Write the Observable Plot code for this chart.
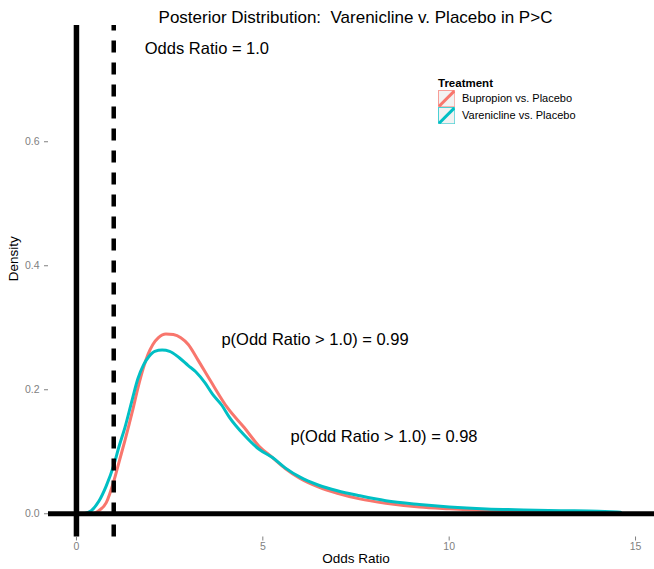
<!DOCTYPE html>
<html><head><meta charset="utf-8">
<script src="https://cdn.jsdelivr.net/npm/d3@7"></script>
<script src="https://cdn.jsdelivr.net/npm/@observablehq/plot@0.6"></script>
<style>
html,body{margin:0;padding:0;background:#fff;overflow:hidden;}
#wrap{position:relative;width:663px;height:569px;font-family:"Liberation Sans",Arial,sans-serif;}
#title{position:absolute;left:48px;width:615px;top:4.5px;line-height:25px;text-align:center;font-size:17px;white-space:pre;color:#000;}
#chart{position:absolute;left:0;top:25px;}
.lg{position:absolute;white-space:pre;line-height:14px;color:#000;}
</style></head><body>
<div id="wrap"><div id="title"></div><div id="chart"></div></div>
<script>
const titleText = "Posterior Distribution:  Varenicline v. Placebo in P>C";
const legendTitle = "Treatment";
const seriesNames = ["Bupropion vs. Placebo", "Varenicline vs. Placebo"];
const seriesColors = ["#F8766D", "#00BFC4"];

const bupropionX = [0.45,0.6,0.8,1.0,1.15,1.3,1.5,1.65,1.8,1.92,2.05,2.2,2.4,2.6,2.8,3.0,3.25,3.6,4.05,4.5,4.9,5.25,5.6,6.0,6.5,7.0,7.6,8.3,9.2,10.0,11.0,12.0,13.0];
const bupropionY = [0.0,0.005,0.018,0.052,0.085,0.118,0.165,0.203,0.236,0.257,0.273,0.284,0.290,0.289,0.284,0.273,0.249,0.214,0.171,0.139,0.109,0.091,0.073,0.057,0.043,0.033,0.024,0.017,0.011,0.008,0.005,0.003,0.001];

const vareniclineX = [0.2,0.4,0.6,0.8,1.0,1.15,1.3,1.5,1.65,1.8,1.95,2.1,2.3,2.5,2.75,3.0,3.2,3.45,3.65,3.9,4.1,4.5,4.9,5.25,5.6,6.0,6.5,7.0,7.6,8.3,9.2,10.0,11.0,12.0,13.0,14.0,14.6];
const vareniclineY = [0.0,0.005,0.02,0.045,0.078,0.11,0.139,0.185,0.218,0.240,0.254,0.262,0.264,0.262,0.252,0.239,0.229,0.211,0.193,0.175,0.156,0.127,0.104,0.091,0.074,0.059,0.046,0.037,0.029,0.021,0.015,0.011,0.0078,0.0062,0.005,0.004,0.0025];

const xTicks = [0, 5, 10, 15];
const yTicks = [0, 0.2, 0.4, 0.6];
const xDomain = [-0.75, 15.75];
const yDomain = [-0.0375, 0.7875];
const solidLineX = [0];
const solidLineY = [0];
const dashedLineX = [1];
const annotationX = [3.5, 6.4, 8.25];
const annotationY = [0.75, 0.28, 0.125];
const annotationText = ["Odds Ratio = 1.0", "p(Odd Ratio > 1.0) = 0.99", "p(Odd Ratio > 1.0) = 0.98"];
const xLabel = "Odds Ratio";
const yLabel = "Density";

const rows = (xs, ys, name) => xs.map((x, i) => ({x, y: ys[i], series: name}));
const bup = rows(bupropionX, bupropionY, seriesNames[0]);
const var_ = rows(vareniclineX, vareniclineY, seriesNames[1]);
const notes = annotationText.map((t, i) => ({x: annotationX[i], y: annotationY[i], t}));

document.getElementById("title").textContent = titleText;

const gray = "#7f7f7f";
const chart = Plot.plot({
  width: 663,
  height: 544,
  marginLeft: 48,
  marginRight: 0,
  marginTop: 0,
  marginBottom: 32.5,
  x: {domain: xDomain},
  y: {domain: yDomain},
  style: {fontFamily: "'Liberation Sans', Arial, sans-serif", background: "white"},
  marks: [
    Plot.line(bup, {x: "x", y: "y", stroke: seriesColors[0], strokeWidth: 3, curve: "monotone-x"}),
    Plot.line(var_, {x: "x", y: "y", stroke: seriesColors[1], strokeWidth: 3, curve: "monotone-x"}),
    Plot.ruleY(solidLineY, {stroke: "black", strokeWidth: 5}),
    Plot.ruleX(solidLineX, {stroke: "black", strokeWidth: 5.5}),
    Plot.ruleX(dashedLineX, {y1: yDomain[0], y2: yDomain[1], stroke: "black", strokeWidth: 4.5, strokeDasharray: "12,10"}),
    Plot.text(notes, {x: "x", y: "y", text: "t", fontSize: 16.5, fill: "black", textAnchor: "middle"}),
    Plot.axisX({ticks: xTicks, tickSize: 4, tickPadding: 2, fontSize: 10.5, color: gray, label: null}),
    Plot.axisY({ticks: yTicks, tickSize: 4, tickPadding: 5, fontSize: 10.5, color: gray, tickFormat: d3.format(".1f"), label: null}),
    Plot.text([xLabel], {frameAnchor: "bottom", dy: 21.5, text: d => d, fontSize: 13.5, fill: "black", lineAnchor: "middle"}),
    Plot.text([yLabel], {frameAnchor: "left", dx: -34.5, rotate: -90, text: d => d, fontSize: 13.5, fill: "black", lineAnchor: "middle"})
  ]
});
document.getElementById("chart").appendChild(chart);

// legend
const wrap = document.getElementById("wrap");
const t = document.createElement("div");
t.className = "lg";
t.style.left = "438px"; t.style.top = "76px"; t.style.fontSize = "11.5px"; t.style.fontWeight = "bold";
t.textContent = legendTitle;
wrap.appendChild(t);
const keySize = 17.3, keyTop = 89.5;
seriesNames.forEach((name, i) => {
  const top = keyTop + i * keySize;
  const svg = d3.create("svg").attr("width", keySize).attr("height", keySize)
    .style("position", "absolute").style("left", "438px").style("top", top + "px");
  svg.append("rect").attr("x", 0.5).attr("y", 0.5).attr("width", keySize - 1).attr("height", keySize - 1)
    .attr("fill", "#f2f2f2").attr("stroke", seriesColors[i]).attr("stroke-opacity", 0.7).attr("stroke-width", 1);
  svg.append("line").attr("x1", 1).attr("y1", keySize - 1).attr("x2", keySize - 1).attr("y2", 1)
    .attr("stroke", seriesColors[i]).attr("stroke-width", 3);
  wrap.appendChild(svg.node());
  const lab = document.createElement("div");
  lab.className = "lg";
  lab.style.left = "462px"; lab.style.top = (top + keySize / 2 - 7) + "px"; lab.style.fontSize = "11px";
  lab.textContent = name;
  wrap.appendChild(lab);
});
</script>
</body></html>
